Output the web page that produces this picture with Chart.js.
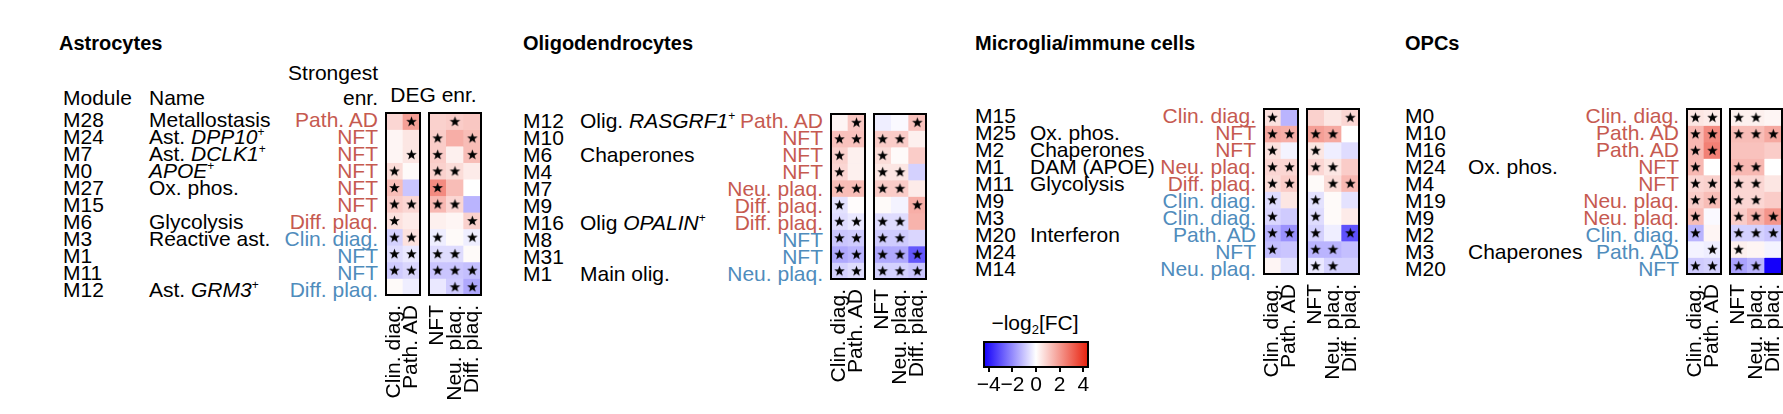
<!DOCTYPE html>
<html lang="en">
<head>
  <meta charset="UTF-8" />
  <title>Module enrichment heatmaps</title>
  <script src="https://cdn.jsdelivr.net/npm/chart.js"></script>
  <style>
    html, body { margin: 0; width: 1783px; height: 414px; overflow: hidden; background: #fff; }
    body { position: relative; font-family: 'Liberation Sans', Arial, sans-serif; color: #000; }
    .t { position: absolute; white-space: pre; font-size: 21px; line-height: 21px; }
    .title { font-weight: bold; font-size: 20px; }
    .rows { position: absolute; white-space: pre; font-size: 21px; line-height: 17px; }
    .right { text-align: right; }
    sup { font-size: 12px; line-height: 0; vertical-align: 8px; }
    sub { font-size: 13px; line-height: 0; vertical-align: -4px; }
    canvas { position: absolute; }
  </style>
</head>
<body>
  <script>
    // column groups
    const degCols = ['Clin. diag.', 'Path. AD'];
    const enrCols = ['NFT', 'Neu. plaq.', 'Diff. plaq.'];

    // Astrocytes
    const astroModules = ['M28', 'M24', 'M7', 'M0', 'M27', 'M15', 'M6', 'M3', 'M1', 'M11', 'M12'];
    const astroNames = ['Metallostasis', 'Ast. DPP10+', 'Ast. DCLK1+', 'APOE+', 'Ox. phos.', '', 'Glycolysis', 'Reactive ast.', '', '', 'Ast. GRM3+'];
    const astroEnr = ['Path. AD', 'NFT', 'NFT', 'NFT', 'NFT', 'NFT', 'Diff. plaq.', 'Clin. diag.', 'NFT', 'NFT', 'Diff. plaq.'];
    const astroDir = [1, 1, 1, 1, 1, 1, 1, -1, -1, -1, -1];
    const astroDeg = [[0.8, 1.9], [0.2, 0.5], [0.2, 0.5], [0.7, 0.1], [1.3, -1.0], [1.0, 0.8], [0.6, 0.4], [-0.8, 0.6], [-0.6, -0.4], [-0.9, -0.7], [0.1, -0.3]];
    const astroDegSig = [[0, 1], [0, 0], [0, 1], [1, 0], [1, 0], [1, 1], [1, 0], [1, 1], [1, 1], [1, 1], [0, 0]];
    const astroEnrFC = [[0.9, 1.0, 1.1], [1.0, 1.6, 1.3], [1.0, 0.3, 1.3], [0.9, 0.7, 0.4], [2.3, 1.3, 0.0], [1.4, 0.8, -1.3], [0.3, 0.2, 0.9], [-0.3, 0.1, -0.3], [-0.6, -0.6, 0.1], [-1.0, -1.0, -1.1], [-0.4, -0.9, -1.5]];
    const astroEnrSig = [[0, 1, 0], [1, 0, 1], [1, 0, 1], [1, 1, 0], [1, 0, 0], [1, 1, 0], [0, 0, 1], [1, 0, 1], [1, 1, 0], [1, 1, 1], [0, 1, 1]];

    // Oligodendrocytes
    const oligoModules = ['M12', 'M10', 'M6', 'M4', 'M7', 'M9', 'M16', 'M8', 'M31', 'M1'];
    const oligoNames = ['Olig. RASGRF1+', '', 'Chaperones', '', '', '', 'Olig OPALIN+', '', '', 'Main olig.'];
    const oligoEnr = ['Path. AD', 'NFT', 'NFT', 'NFT', 'Neu. plaq.', 'Diff. plaq.', 'Diff. plaq.', 'NFT', 'NFT', 'Neu. plaq.'];
    const oligoDir = [1, 1, 1, 1, 1, 1, 1, -1, -1, -1];
    const oligoDeg = [[0.2, 1.1], [1.2, 1.2], [0.9, 0.3], [0.8, 0.3], [1.3, 1.3], [-0.5, 0.05], [-0.6, -0.4], [-1.0, -0.9], [-1.5, -1.3], [-0.8, -0.6]];
    const oligoDegSig = [[0, 1], [1, 1], [1, 0], [1, 0], [1, 1], [1, 0], [1, 1], [1, 1], [1, 1], [1, 1]];
    const oligoEnrFC = [[-0.3, -0.1, 1.2], [1.0, 1.0, 0.3], [0.7, 0.1, 1.0], [0.5, 0.5, -0.8], [1.0, 1.0, 0.4], [0.1, -0.2, 1.6], [-0.6, -0.6, 1.5], [-0.9, -0.9, -0.7], [-1.5, -1.5, -2.9], [-0.8, -0.8, -1.0]];
    const oligoEnrSig = [[0, 0, 1], [1, 1, 0], [1, 0, 0], [1, 1, 0], [1, 1, 0], [0, 0, 1], [1, 1, 0], [1, 1, 0], [1, 1, 1], [1, 1, 1]];

    // Microglia/immune cells
    const microModules = ['M15', 'M25', 'M2', 'M1', 'M11', 'M9', 'M3', 'M20', 'M24', 'M14'];
    const microNames = ['', 'Ox. phos.', 'Chaperones', 'DAM (APOE)', 'Glycolysis', '', '', 'Interferon', '', ''];
    const microEnr = ['Clin. diag.', 'NFT', 'NFT', 'Neu. plaq.', 'Diff. plaq.', 'Clin. diag.', 'Clin. diag.', 'Path. AD', 'NFT', 'Neu. plaq.'];
    const microDir = [1, 1, 1, 1, 1, -1, -1, -1, -1, -1];
    const microDeg = [[0.6, -1.3], [1.7, 1.6], [0.6, -0.2], [0.8, 0.8], [0.7, 1.0], [-0.6, 0.5], [-0.7, -0.9], [-1.3, -1.9], [-1.1, -1.0], [0.2, -0.5]];
    const microDegSig = [[1, 0], [1, 1], [1, 0], [1, 1], [1, 1], [1, 0], [1, 0], [1, 1], [1, 0], [0, 0]];
    const microEnrFC = [[0.9, 0.5, 0.8], [1.9, 1.7, 0.0], [0.5, -0.3, -0.6], [0.8, 0.5, 1.0], [0.1, 0.7, 1.4], [-0.5, 0.1, -0.5], [-0.6, 0.1, 0.4], [-0.8, -0.3, -3.0], [-1.3, -1.3, -1.1], [-0.4, -0.8, -0.8]];
    const microEnrSig = [[0, 0, 1], [1, 1, 0], [1, 0, 0], [1, 1, 0], [0, 1, 1], [1, 0, 0], [1, 0, 0], [1, 0, 1], [1, 1, 0], [1, 1, 0]];

    // OPCs
    const opcModules = ['M0', 'M10', 'M16', 'M24', 'M4', 'M19', 'M9', 'M2', 'M3', 'M20'];
    const opcNames = ['', '', '', 'Ox. phos.', '', '', '', '', 'Chaperones', ''];
    const opcEnr = ['Clin. diag.', 'Path. AD', 'Path. AD', 'NFT', 'NFT', 'Neu. plaq.', 'Neu. plaq.', 'Clin. diag.', 'Path. AD', 'NFT'];
    const opcDir = [1, 1, 1, 1, 1, 1, 1, -1, -1, -1];
    const opcDeg = [[0.5, 0.4], [1.4, 2.3], [1.4, 2.5], [1.4, 0.0], [0.8, 0.9], [1.0, 1.3], [1.3, -0.1], [-1.3, 0.2], [-0.2, -0.3], [-0.9, -0.8]];
    const opcDegSig = [[1, 1], [1, 1], [1, 1], [1, 0], [1, 1], [1, 1], [1, 0], [1, 0], [0, 1], [1, 1]];
    const opcEnrFC = [[0.3, 0.3, 0.2], [1.3, 1.3, 1.7], [1.2, 1.2, 1.0], [1.4, 1.4, 0.0], [0.8, 0.8, 0.5], [0.8, 0.8, 1.0], [1.0, 1.5, 2.1], [-0.8, -0.8, -1.0], [0.3, 0.2, -0.2], [-1.6, -1.3, -4.4]];
    const opcEnrSig = [[1, 1, 0], [1, 1, 1], [0, 0, 0], [1, 1, 0], [1, 1, 0], [1, 1, 0], [1, 1, 1], [1, 1, 1], [1, 0, 0], [1, 1, 0]];

    // colour bar
    const fcLimit = 4.4;
    const cbTicks = [-4, -2, 0, 2, 4];

    const W = 1783, H = 414;
    const CELL_W = 18, CELL_H = 17, GAP = 7, PAD = 6;
    const UP = '#c65a50', DOWN = '#4f8cbc';
    const tickFont = { family: "'Liberation Sans', Arial, sans-serif", size: 21 };

    const panels = [
      { title: 'Astrocytes', titleX: 59, modX: 63, nameX: 149, enrRight: 378, heatX: 385, heatY: 108, headers: true,
        modules: astroModules, names: astroNames, enr: astroEnr, dir: astroDir, deg: astroDeg, degSig: astroDegSig, fc: astroEnrFC, sig: astroEnrSig },
      { title: 'Oligodendrocytes', titleX: 523, modX: 523, nameX: 580, enrRight: 823, heatX: 830, heatY: 109,
        modules: oligoModules, names: oligoNames, enr: oligoEnr, dir: oligoDir, deg: oligoDeg, degSig: oligoDegSig, fc: oligoEnrFC, sig: oligoEnrSig },
      { title: 'Microglia/immune cells', titleX: 975, modX: 975, nameX: 1030, enrRight: 1256, heatX: 1263, heatY: 104,
        modules: microModules, names: microNames, enr: microEnr, dir: microDir, deg: microDeg, degSig: microDegSig, fc: microEnrFC, sig: microEnrSig },
      { title: 'OPCs', titleX: 1405, modX: 1405, nameX: 1468, enrRight: 1679, heatX: 1686, heatY: 104,
        modules: opcModules, names: opcNames, enr: opcEnr, dir: opcDir, deg: opcDeg, degSig: opcDegSig, fc: opcEnrFC, sig: opcEnrSig }
    ];

    function fcColor(v) {
      const t = Math.max(-1, Math.min(1, v / fcLimit));
      const end = t >= 0 ? [232, 32, 12] : [20, 0, 250];
      const a = Math.abs(t);
      const ch = end.map(e => Math.round(255 + (e - 255) * a));
      return `rgb(${ch[0]}, ${ch[1]}, ${ch[2]})`;
    }

    // gene symbol followed by "+" is set in italics with a superscript plus
    function fmtName(s) {
      return s.replace(/(\S+)\+$/, '<i>$1</i><sup>+</sup>');
    }

    function addText(html, x, baseline, cls, align) {
      const d = document.createElement('div');
      d.className = 't ' + (cls || '');
      d.innerHTML = html;
      d.style.top = (baseline - 18) + 'px';
      if (align === 'right') d.style.right = (W - x) + 'px';
      else if (align === 'center') { d.style.left = x + 'px'; d.style.transform = 'translateX(-50%)'; }
      else d.style.left = x + 'px';
      document.body.appendChild(d);
    }

    function addRows(lines, x, top, align) {
      const d = document.createElement('div');
      d.className = 'rows' + (align === 'right' ? ' right' : '');
      d.innerHTML = lines.join('\n');
      d.style.top = (top + 3) + 'px';
      if (align === 'right') d.style.right = (W - x) + 'px';
      else d.style.left = x + 'px';
      document.body.appendChild(d);
    }

    // five-pointed star used as point style
    const starImg = document.createElement('canvas');
    starImg.width = 13; starImg.height = 13;
    (function () {
      const c = starImg.getContext('2d');
      c.beginPath();
      for (let i = 0; i < 10; i++) {
        const r = i % 2 ? 2.3 : 5.6;
        const a = -Math.PI / 2 + i * Math.PI / 5;
        c.lineTo(6.5 + r * Math.cos(a), 7 + r * Math.sin(a));
      }
      c.closePath();
      c.fillStyle = '#000';
      c.fill();
    })();

    const frame = {
      id: 'frame',
      afterDatasetsDraw(chart) {
        const a = chart.chartArea, c = chart.ctx;
        c.save();
        c.lineWidth = 2;
        c.strokeStyle = '#000';
        c.strokeRect(a.left, a.top, a.right - a.left, a.bottom - a.top);
        c.restore();
      }
    };

    function heatmap(cols, fc, sig, left, top) {
      const nRows = fc.length;
      const canvas = document.createElement('canvas');
      canvas.width = cols.length * CELL_W + 2 * PAD;
      canvas.height = H - top + 2;
      canvas.style.left = (left - PAD) + 'px';
      canvas.style.top = (top - 2) + 'px';
      document.body.appendChild(canvas);
      const axisH = canvas.height - 2 - nRows * CELL_H;

      const datasets = fc.map((row, r) => ({
        type: 'bar',
        data: row.map((v, c) => ({ x: cols[c], y: [r - 0.5, r + 0.5], v })),
        backgroundColor: ctx => fcColor(ctx.raw.v),
        grouped: false,
        barPercentage: 1,
        categoryPercentage: 1,
        borderWidth: 0
      }));
      const stars = [];
      sig.forEach((row, r) => row.forEach((s, c) => { if (s) stars.push({ x: cols[c], y: r }); }));
      datasets.push({ type: 'line', data: stars, showLine: false, pointStyle: starImg, pointRadius: 6, order: -1 });

      new Chart(canvas, {
        type: 'bar',
        data: { labels: cols, datasets },
        options: {
          responsive: false,
          animation: false,
          events: [],
          devicePixelRatio: 1,
          layout: { padding: { top: 2, left: PAD, right: PAD, bottom: 0 } },
          plugins: { legend: { display: false }, tooltip: { enabled: false } },
          scales: {
            x: {
              type: 'category',
              offset: true,
              grid: { display: false, drawTicks: false },
              border: { display: false },
              ticks: { color: '#000', font: tickFont, minRotation: 90, maxRotation: 90, autoSkip: false, padding: 10 },
              afterFit: s => { s.height = axisH; s.paddingLeft = 0; s.paddingRight = 0; }
            },
            y: { type: 'linear', display: false, reverse: true, min: -0.5, max: nRows - 0.5 }
          }
        },
        plugins: [frame]
      });
    }

    const gradientFill = {
      id: 'gradientFill',
      beforeDatasetsDraw(chart) {
        const a = chart.chartArea, x = chart.scales.x, c = chart.ctx;
        const g = c.createLinearGradient(x.getPixelForValue(-fcLimit), 0, x.getPixelForValue(fcLimit), 0);
        g.addColorStop(0, fcColor(-fcLimit));
        g.addColorStop(0.5, fcColor(0));
        g.addColorStop(1, fcColor(fcLimit));
        c.save();
        c.fillStyle = g;
        c.fillRect(a.left, a.top, a.right - a.left, a.bottom - a.top);
        c.restore();
      }
    };

    function colorbar(left, top, w, h) {
      const side = 24;
      const canvas = document.createElement('canvas');
      canvas.width = w + 2 * side;
      canvas.height = H - top + 2;
      canvas.style.left = (left - side) + 'px';
      canvas.style.top = (top - 2) + 'px';
      document.body.appendChild(canvas);
      const axisH = canvas.height - 2 - h;
      new Chart(canvas, {
        type: 'scatter',
        data: { datasets: [] },
        options: {
          responsive: false,
          animation: false,
          events: [],
          devicePixelRatio: 1,
          layout: { padding: { top: 2, left: side, right: side, bottom: 0 } },
          plugins: { legend: { display: false }, tooltip: { enabled: false } },
          scales: {
            x: {
              type: 'linear',
              position: 'bottom',
              min: -fcLimit,
              max: fcLimit,
              afterBuildTicks: s => { s.ticks = cbTicks.map(value => ({ value })); },
              afterFit: s => { s.height = axisH; s.paddingLeft = 0; s.paddingRight = 0; },
              grid: { drawOnChartArea: false, drawTicks: true, tickLength: 5, color: '#000', lineWidth: 2 },
              border: { display: false },
              ticks: { color: '#000', font: tickFont, padding: 1, autoSkip: false, maxRotation: 0,
                       callback: v => String(v).replace('-', '\u2212') }
            },
            y: { display: false, min: 0, max: 1 }
          }
        },
        plugins: [gradientFill, frame]
      });
    }

    panels.forEach(p => {
      addText(p.title, p.titleX, 51, 'title');
      if (p.headers) {
        addText('Module', p.modX, 105);
        addText('Name', p.nameX, 105);
        addText('Strongest', p.enrRight, 80, '', 'right');
        addText('enr.', p.enrRight, 105, '', 'right');
        const heatW = degCols.length * CELL_W + GAP + enrCols.length * CELL_W;
        addText('DEG enr.', p.heatX + heatW / 2, 102, '', 'center');
      }
      addRows(p.modules, p.modX, p.heatY);
      addRows(p.names.map(fmtName), p.nameX, p.heatY);
      addRows(p.enr.map((e, i) => `<span style="color:${p.dir[i] > 0 ? UP : DOWN}">${e}</span>`), p.enrRight, p.heatY, 'right');
      heatmap(degCols, p.deg, p.degSig, p.heatX, p.heatY);
      heatmap(enrCols, p.fc, p.sig, p.heatX + degCols.length * CELL_W + GAP, p.heatY);
    });

    addText('\u2212log<sub>2</sub>[FC]', 1035, 330, '', 'center');
    colorbar(984, 342, 104, 25);
  </script>
</body>
</html>
